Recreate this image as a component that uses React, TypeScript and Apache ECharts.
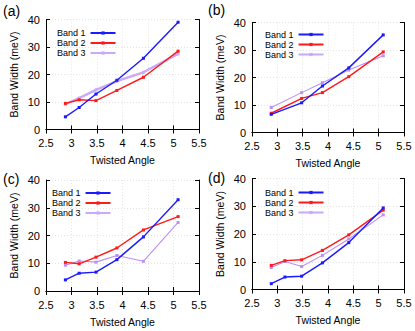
import React, { useEffect, useRef } from "react";
import * as echarts from "echarts";

const bandNames = ["Band 1", "Band 2", "Band 3"];
const xTicks = [2.5, 5.5, 0.5];
const yTicks = [0, 40, 10];
const panelLabels = ["(a)", "(b)", "(c)", "(d)"];

const angles = [2.88, 3.15, 3.48, 3.89, 4.41, 5.09];
const anglesB = [2.88, 3.48, 3.89, 4.41, 5.09];

const a1 = [4.6, 8.0, 12.9, 17.9, 25.9, 39.0];
const a2 = [9.5, 10.8, 10.5, 14.2, 19.0, 28.5];
const a3 = [9.2, 11.4, 14.4, 17.6, 20.8, 27.5];

const b1 = [6.6, 10.8, 16.9, 23.5, 35.5];
const b2 = [7.0, 12.4, 14.5, 20.3, 29.3];
const b3 = [9.1, 14.5, 18.1, 22.7, 27.9];

const c1 = [4.0, 6.4, 6.8, 11.3, 19.5, 32.9];
const c2 = [10.3, 9.8, 12.2, 15.5, 22.0, 26.8];
const c3 = [9.3, 10.8, 10.4, 12.8, 10.7, 24.7];

const d1 = [2.1, 4.5, 4.8, 9.6, 16.9, 29.4];
const d2 = [8.7, 10.4, 10.7, 14.1, 19.7, 28.6];
const d3 = [7.9, 10.1, 8.3, 12.3, 18.2, 26.9];

const panels = [
  { x: angles, bands: [a1, a2, a3] },
  { x: anglesB, bands: [b1, b2, b3] },
  { x: angles, bands: [c1, c2, c3] },
  { x: angles, bands: [d1, d2, d3] },
];

export default function App() {
  const ref = useRef<HTMLDivElement>(null);
  useEffect(() => {
    if (!ref.current) return;
    const chart = echarts.init(ref.current, null, { renderer: "svg" });
    const font = "'Liberation Sans', Arial, Helvetica, sans-serif";
    const grids = [
      { left: 46, top: 19.5, width: 153, height: 110 },
      { left: 252, top: 22.5, width: 152, height: 110 },
      { left: 46, top: 180, width: 153, height: 111 },
      { left: 252, top: 178.5, width: 152, height: 111 },
    ];
    const legendPos = [
      { left: 57, top: 28 },
      { left: 265, top: 29.5 },
      { left: 52, top: 188 },
      { left: 265, top: 187.5 },
    ];
    const labelPos = [
      { x: 3, y: 4 },
      { x: 208, y: 3 },
      { x: 3, y: 172 },
      { x: 208, y: 171 },
    ];
    const colors = ["#1a1aff", "#ff1a1a", "#bb8ff5"];
    const xAxis: any[] = [];
    const yAxis: any[] = [];
    const series: any[] = [];
    const legend: any[] = [];
    const graphic: any[] = [];
    panels.forEach((p, i) => {
      const common = {
        gridIndex: i,
        type: "value",
        axisLine: { show: true, lineStyle: { color: "#000", width: 1 } },
        axisTick: { show: true, inside: true, length: 4, lineStyle: { color: "#000" } },
      };
      xAxis.push({
        ...common,
        position: "bottom",
        min: xTicks[0],
        max: xTicks[1],
        interval: xTicks[2],
        name: "Twisted Angle",
        nameLocation: "middle",
        nameGap: 25,
        nameTextStyle: { fontFamily: font, fontSize: 10.5, color: "#000" },
        axisLabel: { fontFamily: font, fontSize: 11, color: "#000", margin: 8 },
        splitLine: { show: true, lineStyle: { color: "#dddddd", type: [1, 2], width: 0.8 } },
      });
      xAxis.push({
        ...common,
        position: "top",
        min: xTicks[0],
        max: xTicks[1],
        interval: xTicks[2],
        axisLabel: { show: false },
        splitLine: { show: false },
      });
      yAxis.push({
        ...common,
        position: "left",
        min: yTicks[0],
        max: yTicks[1],
        interval: yTicks[2],
        name: "Band Width (meV)",
        nameLocation: "middle",
        nameGap: 27,
        nameRotate: 90,
        nameTextStyle: { fontFamily: font, fontSize: 10.5, color: "#000" },
        axisLabel: { fontFamily: font, fontSize: 11, color: "#000", margin: 6 },
        splitLine: { show: true, lineStyle: { color: "#dddddd", type: [1, 2], width: 0.8 } },
      });
      yAxis.push({
        ...common,
        position: "right",
        min: yTicks[0],
        max: yTicks[1],
        interval: yTicks[2],
        axisLabel: { show: false },
        splitLine: { show: false },
      });
      p.bands.forEach((vals, k) => {
        const purpleA = i === 0 && k === 2;
        const col = purpleA ? "#c9a9fa" : colors[k];
        series.push({
          type: "line",
          name: bandNames[k],
          xAxisIndex: i * 2,
          yAxisIndex: i * 2,
          data: vals.map((v, j) => [p.x[j], v]),
          symbol: "rect",
          symbolSize: 3,
          showSymbol: true,
          color: col,
          lineStyle: { width: purpleA ? 2.3 : k === 2 ? 1.1 : 1.4, color: col },
          itemStyle: { color: col },
          z: 3 - k,
        });
      });
      legend.push({
        ...legendPos[i],
        orient: "vertical",
        align: "right",
        selectedMode: false,
        itemWidth: 25,
        itemHeight: 4,
        itemGap: 0,
        padding: 0,
        data: bandNames,
        textStyle: { fontFamily: font, fontSize: 9, color: "#000", lineHeight: 10 },
      });
      graphic.push({
        type: "text",
        left: labelPos[i].x,
        top: labelPos[i].y,
        style: { text: panelLabels[i], font: `14px ${font}`, fill: "#000" },
      });
    });
    chart.setOption({
      animation: false,
      backgroundColor: "#fff",
      grid: grids.map((g) => ({ ...g, containLabel: false })),
      xAxis,
      yAxis,
      series,
      legend,
      graphic,
    });
    return () => chart.dispose();
  }, []);
  return (
    <div
      ref={ref}
      style={{ position: "absolute", left: 0, top: 0, width: 415, height: 331 }}
    />
  );
}
